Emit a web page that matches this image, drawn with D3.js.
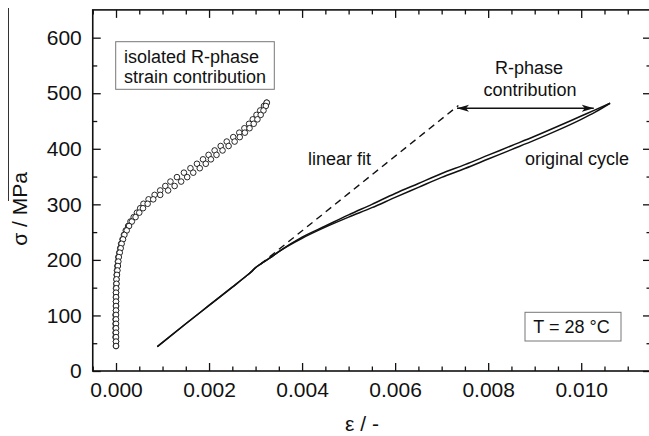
<!DOCTYPE html>
<html lang="en">
<head>
<meta charset="UTF-8">
<title>R-phase strain contribution</title>
<script src="https://d3js.org/d3.v7.min.js"></script>
<style>
  body { margin: 0; background: #fff; }
  text { font-family: "Liberation Sans", Arial, sans-serif; fill: #111; }
</style>
</head>
<body>
<div id="chart"></div>
<script>
// tick labels
const xMajor = [0, 0.002, 0.004, 0.006, 0.008, 0.010];
const yMajor = [0, 100, 200, 300, 400, 500, 600];

// isolated R-phase strain contribution (open circles), loading + unloading branch
const rStress = [45, 53, 61, 69, 77, 85, 93, 101, 109, 117, 125, 133, 141, 149,
  157, 165, 173, 181, 189, 197, 205, 213, 221, 229, 237, 245, 253, 261, 269, 277,
  285, 293, 301, 309, 317, 325, 333, 341, 349, 357, 365, 373, 381, 389, 397, 405,
  413, 421, 429, 437, 445, 453, 461, 469, 477, 483];
const rStrainUpper = [0, 0, -0.00001, -0.00001, -0.00001, -0.00001, -0.00001, -0.00001, 0, 0, 0, 0, 0, 0,
  0.000005, 0.00001, 0.000015, 0.00002, 0.00003, 0.00004, 0.00005, 0.00007, 0.00009, 0.00011,
  0.00014, 0.00017, 0.00021, 0.00026, 0.00031, 0.00038, 0.00045, 0.00052, 0.00059, 0.00070,
  0.00083, 0.00095, 0.00106, 0.00117, 0.00131, 0.00146, 0.00160, 0.00174, 0.00187, 0.00199,
  0.00212, 0.00225, 0.00238, 0.00252, 0.00265, 0.00276, 0.00286, 0.00294, 0.00302, 0.00310,
  0.00318, 0.00324];
const rStrainLower = [0, 0, 0, 0, 0, 0, 0, 0, 0, 0, 0, 0, 0, 0.000005,
  0.00001, 0.00001, 0.00002, 0.00003, 0.00004, 0.00005, 0.00006, 0.00008, 0.00010, 0.00012,
  0.00015, 0.00018, 0.00023, 0.00028, 0.00034, 0.00042, 0.00050, 0.00058, 0.00068, 0.00080,
  0.00095, 0.00112, 0.00126, 0.00140, 0.00153, 0.00166, 0.00180, 0.00193, 0.00204, 0.00216,
  0.00229, 0.00242, 0.00255, 0.00266, 0.00277, 0.00287, 0.00296, 0.00304, 0.00311, 0.00317,
  0.00322, 0.00324];

// original cycle
const cycleStrain = [0.000888, 0.0015, 0.0020, 0.0025, 0.0028, 0.0029, 0.0030, 0.0031, 0.0033, 0.0035,
  0.0040, 0.0045, 0.0050, 0.0055, 0.0060, 0.0065, 0.0070, 0.0075, 0.0080, 0.0085,
  0.0090, 0.0095, 0.0100, 0.0103, 0.01062];
const cycleUpper = [44, 85, 118, 151, 171, 178, 186, 192, 203, 215,
  241, 261, 281, 300, 319.5, 337.5, 355.5, 371.5, 388.5, 405.5, 422.5, 440.5, 459, 470, 482];
const cycleLower = [44, 85, 118, 151, 171, 178, 186, 192, 203, 215,
  239, 259, 277, 294, 312.5, 330.5, 348.5, 364.5, 381.5, 398.5, 415.5, 433.5, 453, 466, 482];

// linear fit (dashed)
const fitStrain = [0.0031, 0.00736];
const fitStress = [192, 478];

// R-phase contribution arrow
const arrowStrain = [0.00733, 0.01027];
const arrowStress = 473;

const width = 649, height = 436;
const svg = d3.select("#chart").append("svg")
  .attr("width", width)
  .attr("height", height);

const x = d3.scaleLinear().domain([-0.0005, 0.0115]).range([92.75, 651]);
const y = d3.scaleLinear().domain([0, 650]).range([371, 9.9]);

const xMinor = d3.range(-0.0005, 0.01151, 0.0005).filter(v => !xMajor.some(m => Math.abs(m - v) < 1e-9));
const yMinor = d3.range(50, 650, 100);

// axes, ticks pointing inward
function styleAxis(g) {
  g.select(".domain").remove();
  g.selectAll(".tick line").attr("stroke", "#111").attr("stroke-width", 1.3);
  g.selectAll("text").style("font-size", "21px").attr("fill", "#111");
}

svg.append("g").attr("transform", `translate(0,${y(0)})`)
  .call(d3.axisBottom(x).tickValues(xMajor).tickFormat(d3.format(".3f")).tickSize(-8).tickPadding(11))
  .call(styleAxis);
svg.append("g").attr("transform", `translate(0,${y(0)})`)
  .call(d3.axisBottom(x).tickValues(xMinor).tickFormat("").tickSize(-4.5))
  .call(styleAxis);
svg.append("g").attr("transform", `translate(0,${y(650)})`)
  .call(d3.axisTop(x).tickValues(xMajor).tickFormat("").tickSize(-8))
  .call(styleAxis);
svg.append("g").attr("transform", `translate(0,${y(650)})`)
  .call(d3.axisTop(x).tickValues(xMinor).tickFormat("").tickSize(-4.5))
  .call(styleAxis);

svg.append("g").attr("transform", `translate(${x(-0.0005)},0)`)
  .call(d3.axisLeft(y).tickValues(yMajor).tickSize(-8).tickPadding(11))
  .call(styleAxis);
svg.append("g").attr("transform", `translate(${x(-0.0005)},0)`)
  .call(d3.axisLeft(y).tickValues(yMinor).tickFormat("").tickSize(-4.5))
  .call(styleAxis);
svg.append("g").attr("transform", `translate(${x(0.0115)},0)`)
  .call(d3.axisRight(y).tickValues(yMajor).tickFormat("").tickSize(-8))
  .call(styleAxis);
svg.append("g").attr("transform", `translate(${x(0.0115)},0)`)
  .call(d3.axisRight(y).tickValues(yMinor).tickFormat("").tickSize(-4.5))
  .call(styleAxis);

// frame
svg.append("rect")
  .attr("x", x(-0.0005)).attr("y", y(650))
  .attr("width", x(0.0115) - x(-0.0005)).attr("height", y(0) - y(650))
  .attr("fill", "none").attr("stroke", "#111").attr("stroke-width", 1.6);

// axis titles
svg.append("text")
  .attr("x", 362).attr("y", 431)
  .attr("text-anchor", "middle")
  .style("font-size", "21px")
  .text("ε / -");
svg.append("text")
  .attr("transform", "translate(27,209) rotate(-90)")
  .attr("text-anchor", "middle")
  .style("font-size", "21px")
  .text("σ / MPa");
svg.append("line")
  .attr("x1", 8.5).attr("x2", 8.5).attr("y1", 8).attr("y2", 201)
  .attr("stroke", "#333").attr("stroke-width", 1);

const line = d3.line().x(d => x(d[0])).y(d => y(d[1]));
const smooth = d3.line().x(d => x(d[0])).y(d => y(d[1])).curve(d3.curveMonotoneX);

// linear fit
svg.append("path")
  .attr("d", line(fitStrain.map((e, i) => [e, fitStress[i]])))
  .attr("fill", "none").attr("stroke", "#111").attr("stroke-width", 1.4)
  .attr("stroke-dasharray", "7,5");

// original cycle: loading and unloading
[cycleUpper, cycleLower].forEach(branch => {
  svg.append("path")
    .attr("d", smooth(cycleStrain.map((e, i) => [e, branch[i]])))
    .attr("fill", "none").attr("stroke", "#111").attr("stroke-width", 1.5)
    .attr("stroke-linejoin", "round");
});

// isolated R-phase points
const rPts = rStress.map((s, i) => [rStrainUpper[i], s])
  .concat(rStress.map((s, i) => [rStrainLower[i], s]).reverse());
svg.append("g").selectAll("circle")
  .data(rPts)
  .join("circle")
  .attr("cx", d => x(d[0]))
  .attr("cy", d => y(d[1]))
  .attr("r", 2.8)
  .attr("fill", "#fff")
  .attr("stroke", "#111")
  .attr("stroke-width", 0.9);

// double arrow
const defs = svg.append("defs");
["start", "end"].forEach(k => {
  defs.append("marker")
    .attr("id", "arrow-" + k)
    .attr("viewBox", "0 0 12 8")
    .attr("refX", k === "end" ? 12 : 0).attr("refY", 4)
    .attr("markerWidth", 12).attr("markerHeight", 8)
    .attr("markerUnits", "userSpaceOnUse")
    .attr("orient", "auto")
    .append("path")
    .attr("d", k === "end" ? "M0,0.5 L12,4 L0,7.5 L3,4 Z" : "M12,0.5 L0,4 L12,7.5 L9,4 Z")
    .attr("fill", "#111");
});
svg.append("line")
  .attr("x1", x(arrowStrain[0])).attr("x2", x(arrowStrain[1]))
  .attr("y1", y(arrowStress)).attr("y2", y(arrowStress))
  .attr("stroke", "#111").attr("stroke-width", 1.5)
  .attr("marker-start", "url(#arrow-start)")
  .attr("marker-end", "url(#arrow-end)");

// annotations
svg.append("text").attr("x", 529).attr("y", 74).attr("text-anchor", "middle")
  .style("font-size", "18px").text("R-phase");
svg.append("text").attr("x", 530).attr("y", 96).attr("text-anchor", "middle")
  .style("font-size", "18px").text("contribution");
svg.append("text").attr("x", 308).attr("y", 165)
  .style("font-size", "18px").text("linear fit");
svg.append("text").attr("x", 525).attr("y", 165)
  .style("font-size", "18px").text("original cycle");

// label boxes
svg.append("rect")
  .attr("x", 115.7).attr("y", 41.7).attr("width", 158.6).attr("height", 47.6)
  .attr("fill", "#fff").attr("stroke", "#777").attr("stroke-width", 1);
svg.append("text").attr("x", 124).attr("y", 63.3)
  .style("font-size", "18px").text("isolated R-phase");
svg.append("text").attr("x", 124).attr("y", 82.7)
  .style("font-size", "18px").text("strain contribution");

svg.append("rect")
  .attr("x", 525).attr("y", 312.3).attr("width", 96).attr("height", 28.7)
  .attr("fill", "#fff").attr("stroke", "#777").attr("stroke-width", 1);
svg.append("text").attr("x", 533.3).attr("y", 333.3)
  .style("font-size", "18px").text("T = 28 °C");
</script>
</body>
</html>
